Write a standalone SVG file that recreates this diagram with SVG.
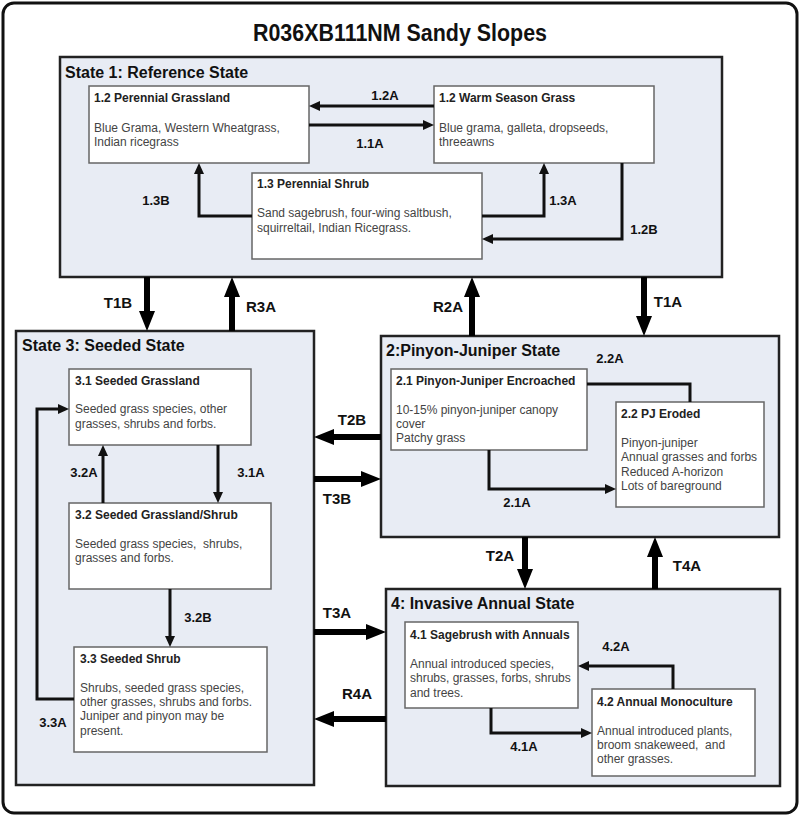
<svg xmlns="http://www.w3.org/2000/svg" width="800" height="816" viewBox="0 0 800 816">
<defs>
<style>
.frame{fill:#fff;stroke:#111;stroke-width:3}
.state{fill:#e8ecf4;stroke:#222;stroke-width:2.5}
.box{fill:#fff;stroke:#666;stroke-width:1.5}
.title{font-family:"Liberation Sans",Arial,sans-serif;font-weight:bold;font-size:23px;fill:#111}
.stitle{font-family:"Liberation Sans",Arial,sans-serif;font-weight:bold;font-size:16px;fill:#111}
.btitle{font-family:"Liberation Sans",Arial,sans-serif;font-weight:bold;font-size:12px;fill:#222}
.body{font-family:"Liberation Sans",Arial,sans-serif;font-size:12px;fill:#444}
.lbl{font-family:"Liberation Sans",Arial,sans-serif;font-weight:bold;font-size:13px;fill:#111;text-anchor:middle}
.tlbl{font-family:"Liberation Sans",Arial,sans-serif;font-weight:bold;font-size:15px;fill:#111;text-anchor:middle}
.thin{fill:none;stroke:#111;stroke-width:3;marker-end:url(#ah)}
.thinn{fill:none;stroke:#111;stroke-width:3}
.thick{fill:none;stroke:#000;stroke-width:6;marker-end:url(#ahb)}
</style>
<marker id="ah" markerUnits="userSpaceOnUse" markerWidth="12" markerHeight="10" refX="0" refY="5" orient="auto" overflow="visible">
<path d="M0,0 L11,5 L0,10 z" fill="#111"/>
</marker>
<marker id="ahb" markerUnits="userSpaceOnUse" markerWidth="21" markerHeight="17" refX="0" refY="8" orient="auto" overflow="visible">
<path d="M0,0 L20,8 L0,16 z" fill="#000"/>
</marker>
</defs>

<rect class="frame" x="3" y="3" width="794" height="810" rx="11"/>
<text class="title" x="253" y="41" textLength="294" lengthAdjust="spacingAndGlyphs">R036XB111NM Sandy Slopes</text>

<g id="state1">
<rect class="state" x="60" y="57" width="662" height="220"/>
<text class="stitle" x="65" y="78">State 1: Reference State</text>
</g>
<g id="state3">
<rect class="state" x="16" y="331" width="298" height="454"/>
<text class="stitle" x="22" y="351">State 3: Seeded State</text>
</g>
<g id="state2">
<rect class="state" x="381" y="336" width="398" height="201"/>
<text class="stitle" x="386" y="356">2:Pinyon-Juniper State</text>
</g>
<g id="state4">
<rect class="state" x="386" y="589" width="394" height="197"/>
<text class="stitle" x="391" y="609">4: Invasive Annual State</text>
</g>

<g id="n1-2pg">
<rect class="box" x="89" y="86" width="220" height="77"/>
<text class="btitle" x="94" y="102">1.2 Perennial Grassland</text>
<text class="body" x="94" y="132">Blue Grama, Western Wheatgrass,</text>
<text class="body" x="94" y="146">Indian ricegrass</text>
</g>
<g id="n1-2wsg">
<rect class="box" x="434" y="86" width="220" height="77"/>
<text class="btitle" x="439" y="102">1.2 Warm Season Grass</text>
<text class="body" x="439" y="132">Blue grama, galleta, dropseeds,</text>
<text class="body" x="439" y="146">threeawns</text>
</g>
<g id="n1-3">
<rect class="box" x="252" y="173" width="230" height="86"/>
<text class="btitle" x="257" y="188">1.3 Perennial Shrub</text>
<text class="body" x="257" y="217">Sand sagebrush, four-wing saltbush,</text>
<text class="body" x="257" y="232">squirreltail, Indian Ricegrass.</text>
</g>

<g id="n3-1">
<rect class="box" x="69" y="369" width="182" height="76"/>
<text class="btitle" x="75" y="385">3.1 Seeded Grassland</text>
<text class="body" x="75" y="413">Seeded grass species, other</text>
<text class="body" x="75" y="428">grasses, shrubs and forbs.</text>
</g>
<g id="n3-2">
<rect class="box" x="69" y="503" width="202" height="86"/>
<text class="btitle" x="75" y="519">3.2 Seeded Grassland/Shrub</text>
<text class="body" x="75" y="548" xml:space="preserve">Seeded grass species,  shrubs,</text>
<text class="body" x="75" y="562">grasses and forbs.</text>
</g>
<g id="n3-3">
<rect class="box" x="74" y="647" width="193" height="105"/>
<text class="btitle" x="80" y="663">3.3 Seeded Shrub</text>
<text class="body" x="80" y="692">Shrubs, seeded grass species,</text>
<text class="body" x="80" y="706">other grasses, shrubs and forbs.</text>
<text class="body" x="80" y="720">Juniper and pinyon may be</text>
<text class="body" x="80" y="735">present.</text>
</g>

<g id="n2-1">
<rect class="box" x="391" y="369" width="196" height="81"/>
<text class="btitle" x="396" y="385">2.1 Pinyon-Juniper Encroached</text>
<text class="body" x="396" y="414">10-15% pinyon-juniper canopy</text>
<text class="body" x="396" y="428">cover</text>
<text class="body" x="396" y="442">Patchy grass</text>
</g>
<g id="n2-2">
<rect class="box" x="616" y="402" width="148" height="105"/>
<text class="btitle" x="621" y="418">2.2 PJ Eroded</text>
<text class="body" x="621" y="447">Pinyon-juniper</text>
<text class="body" x="621" y="461">Annual grasses and forbs</text>
<text class="body" x="621" y="476">Reduced A-horizon</text>
<text class="body" x="621" y="490">Lots of bareground</text>
</g>

<g id="n4-1">
<rect class="box" x="405" y="622" width="173" height="86"/>
<text class="btitle" x="410" y="639">4.1 Sagebrush with Annuals</text>
<text class="body" x="410" y="668">Annual introduced species,</text>
<text class="body" x="410" y="682">shrubs, grasses, forbs, shrubs</text>
<text class="body" x="410" y="697">and trees.</text>
</g>
<g id="n4-2">
<rect class="box" x="592" y="689" width="163" height="87"/>
<text class="btitle" x="597" y="706">4.2 Annual Monoculture</text>
<text class="body" x="597" y="735">Annual introduced plants,</text>
<text class="body" x="597" y="749" xml:space="preserve">broom snakeweed,  and</text>
<text class="body" x="597" y="763">other grasses.</text>
</g>

<g id="connectors">
<path class="thin" d="M434,106 H320"/>
<path class="thin" d="M309,125 H423"/>
<path class="thin" d="M252,216 H199 V174"/>
<path class="thin" d="M482,216 H544 V174"/>
<path class="thin" d="M622,163 V239 H493"/>

<path class="thin" d="M218,445 V492"/>
<path class="thin" d="M103,503 V456"/>
<path class="thin" d="M170,589 V636"/>
<path class="thin" d="M74,699 H37 V409 H58"/>

<path class="thinn" d="M690,402 V384 H587"/>
<path class="thin" d="M489,450 V489 H605"/>

<path class="thin" d="M673,689 V666 H589"/>
<path class="thin" d="M491,708 V733 H581"/>

<path class="thick" d="M147,277 V311"/>
<path class="thick" d="M232,331 V297"/>
<path class="thick" d="M472,336 V297"/>
<path class="thick" d="M644,277 V316"/>
<path class="thick" d="M381,437 H334"/>
<path class="thick" d="M314,479 H361"/>
<path class="thick" d="M525,537 V569"/>
<path class="thick" d="M655,589 V557"/>
<path class="thick" d="M314,632 H366"/>
<path class="thick" d="M386,719 H334"/>

<text class="lbl" x="385" y="100">1.2A</text>
<text class="lbl" x="370" y="148">1.1A</text>
<text class="lbl" x="156" y="205">1.3B</text>
<text class="lbl" x="563" y="205">1.3A</text>
<text class="lbl" x="644" y="234">1.2B</text>
<text class="lbl" x="251" y="477">3.1A</text>
<text class="lbl" x="84" y="477">3.2A</text>
<text class="lbl" x="198" y="622">3.2B</text>
<text class="lbl" x="53" y="727">3.3A</text>
<text class="lbl" x="610" y="363">2.2A</text>
<text class="lbl" x="517" y="507">2.1A</text>
<text class="lbl" x="616" y="651">4.2A</text>
<text class="lbl" x="524" y="751">4.1A</text>

<text class="tlbl" x="118" y="308">T1B</text>
<text class="tlbl" x="261" y="312">R3A</text>
<text class="tlbl" x="448" y="312">R2A</text>
<text class="tlbl" x="668" y="307">T1A</text>
<text class="tlbl" x="352" y="425">T2B</text>
<text class="tlbl" x="337" y="504">T3B</text>
<text class="tlbl" x="500" y="561">T2A</text>
<text class="tlbl" x="687" y="571">T4A</text>
<text class="tlbl" x="337" y="618">T3A</text>
<text class="tlbl" x="357" y="699">R4A</text>
</g>
</svg>
